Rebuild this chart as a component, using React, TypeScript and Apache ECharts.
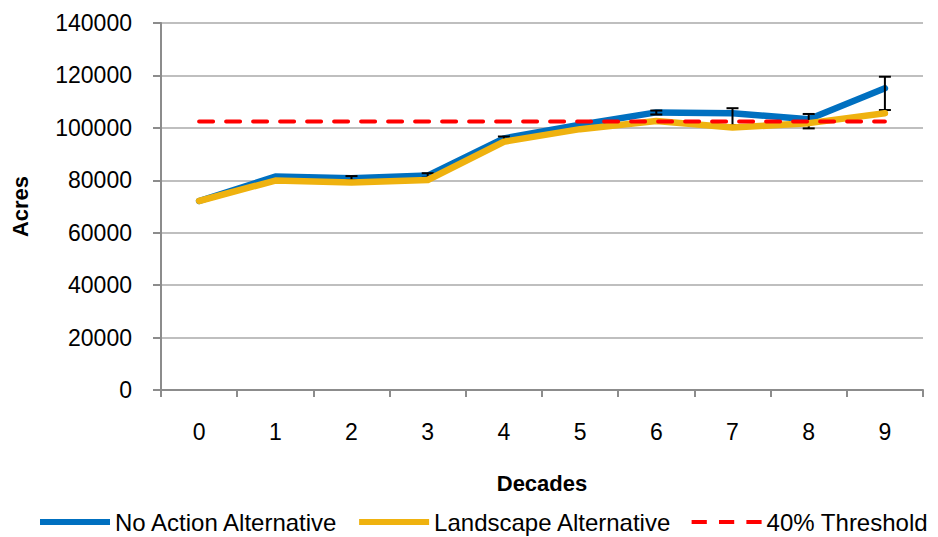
import React, { useEffect, useRef } from "react";
import * as echarts from "echarts";

const decades = ["0", "1", "2", "3", "4", "5", "6", "7", "8", "9"];
const noAction = [72100, 81400, 80800, 81800, 96000, 101200, 105900, 105600, 103300, 115100];
const landscape = [72100, 79900, 79200, 80100, 94700, 99500, 102600, 100100, 101800, 105600];
const threshold = [102400, 102400, 102400, 102400, 102400, 102400, 102400, 102400, 102400, 102400];
const errLow = [72100, 81400, 80100, 81000, 94400, 101200, 105100, 101100, 99800, 106800];
const errHigh = [72100, 81400, 81600, 82700, 96700, 101200, 106600, 107500, 105300, 119500];
const yTicks = { min: 0, max: 140000, interval: 20000 };

const FONT = "Liberation Sans";
const SOLID_ICON = "path://M0,0H70V6H0Z";
const DASH_ICON = "path://M0,0H15V4H0Z M27,0H42V4H27Z M54,0H69V4H54Z";

export default function App() {
  const ref = useRef<HTMLDivElement>(null);
  useEffect(() => {
    if (!ref.current) return;
    const chart = echarts.init(ref.current, null, { renderer: "svg" });
    const errData = decades.map((_, i) => [i, errLow[i], errHigh[i]]);
    chart.setOption({
      animation: false,
      backgroundColor: "#ffffff",
      textStyle: { fontFamily: FONT },
      grid: { left: 161, right: 15, top: 23, bottom: 147, containLabel: false },
      legend: {
        top: 510,
        left: 40,
        width: 898,
        padding: 0,
        itemWidth: 70,
        itemHeight: 6,
        itemGap: 20,
        data: [
          { name: "No Action Alternative", icon: SOLID_ICON },
          { name: "Landscape Alternative", icon: SOLID_ICON },
          { name: "40% Threshold", icon: DASH_ICON },
        ],
        textStyle: { fontFamily: FONT, fontSize: 24, color: "#000" },
      },
      xAxis: {
        type: "category",
        data: decades,
        boundaryGap: true,
        name: "Decades",
        nameLocation: "middle",
        nameGap: 82,
        nameTextStyle: { fontFamily: FONT, fontSize: 22, fontWeight: "bold", color: "#000" },
        axisLine: { lineStyle: { color: "#8C8C8C", width: 2 } },
        axisTick: { show: true, alignWithLabel: false, length: 7, lineStyle: { color: "#8C8C8C", width: 2 } },
        axisLabel: { margin: 30, fontFamily: FONT, fontSize: 23, color: "#000" },
        splitLine: { show: false },
      },
      yAxis: {
        type: "value",
        min: yTicks.min,
        max: yTicks.max,
        interval: yTicks.interval,
        name: "Acres",
        nameLocation: "middle",
        nameGap: 130,
        nameTextStyle: { fontFamily: FONT, fontSize: 22, fontWeight: "bold", color: "#000" },
        axisLine: { show: true, lineStyle: { color: "#8C8C8C", width: 2 } },
        axisTick: { show: true, length: 8, lineStyle: { color: "#8C8C8C", width: 2 } },
        axisLabel: {
          margin: 29,
          fontFamily: FONT,
          fontSize: 23,
          color: "#000",
          formatter: (v: number) => String(v),
        },
        splitLine: { show: true, lineStyle: { color: "#BFBFBF", width: 2 } },
      },
      series: [
        {
          name: "No Action Alternative",
          type: "line",
          data: noAction,
          symbol: "none",
          z: 2,
          lineStyle: { color: "#0070C0", width: 6.5, join: "round", cap: "round" },
          itemStyle: { color: "#0070C0" },
        },
        {
          name: "errorbars",
          type: "custom",
          data: errData,
          z: 3,
          encode: { x: 0, y: [1, 2] },
          renderItem: (params: any, api: any) => {
            const idx = api.value(0);
            const lo = api.coord([idx, api.value(1)]);
            const hi = api.coord([idx, api.value(2)]);
            if (Math.abs(hi[1] - lo[1]) < 0.5) return { type: "group", children: [] };
            const cap = 6;
            const style = { stroke: "#000", lineWidth: 2 };
            return {
              type: "group",
              children: [
                { type: "line", shape: { x1: lo[0], y1: lo[1], x2: hi[0], y2: hi[1] }, style },
                { type: "line", shape: { x1: hi[0] - cap, y1: hi[1], x2: hi[0] + cap, y2: hi[1] }, style },
                { type: "line", shape: { x1: lo[0] - cap, y1: lo[1], x2: lo[0] + cap, y2: lo[1] }, style },
              ],
            };
          },
        },
        {
          name: "Landscape Alternative",
          type: "line",
          data: landscape,
          symbol: "none",
          z: 4,
          lineStyle: { color: "#EFB20F", width: 6.5, join: "round", cap: "round" },
          itemStyle: { color: "#EFB20F" },
        },
        {
          name: "40% Threshold",
          type: "line",
          data: threshold,
          symbol: "none",
          z: 5,
          lineStyle: { color: "#FF0000", width: 4, type: [14, 13], cap: "round" },
          itemStyle: { color: "#FF0000" },
        },
      ],
    });
    return () => chart.dispose();
  }, []);
  return (
    <div
      ref={ref}
      style={{ position: "fixed", left: 0, top: 0, width: 938, height: 537, background: "#fff" }}
    />
  );
}
